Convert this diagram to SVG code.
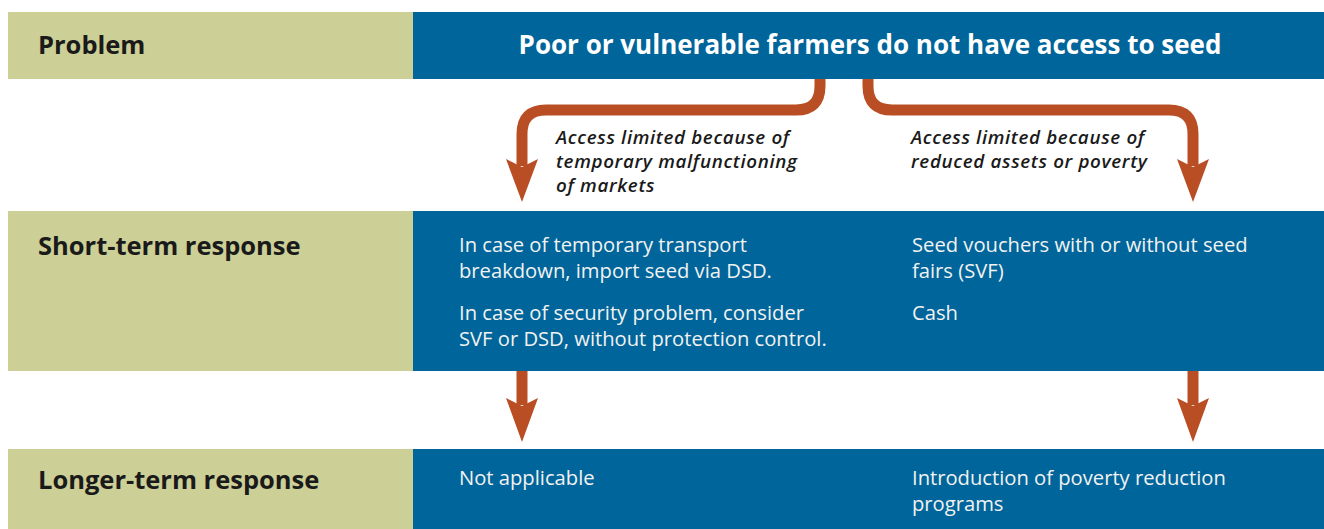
<svg xmlns="http://www.w3.org/2000/svg" width="1324" height="529" viewBox="0 0 1324 529">
<style>
.green{fill:#cccf96}
.blue{fill:#00659a}
.head{font-family:"Open Sans","Liberation Sans",sans-serif;font-weight:700;font-size:25.5px;fill:#1a1a1a}
.title{font-family:"Open Sans","Liberation Sans",sans-serif;font-weight:700;font-size:26px;fill:#ffffff}
.body{font-family:"Open Sans","Liberation Sans",sans-serif;font-size:20.2px;fill:#f2f2f2}
.lab{font-family:"Open Sans","Liberation Sans",sans-serif;font-weight:600;font-style:italic;font-size:18.8px;letter-spacing:0.65px;fill:#1a1a1a}
.shaft{fill:none;stroke:#b94e24;stroke-width:11}
.ah{fill:#b94e24}
</style>
<g id="problem">
<rect class="green" x="8" y="12" width="405" height="67"/>
<rect class="blue" x="413" y="12" width="911" height="67"/>
<text class="head" x="38" y="54">Problem</text>
<text class="title" x="870" y="54" text-anchor="middle">Poor or vulnerable farmers do not have access to seed</text>
</g>
<g id="short-term">
<rect class="green" x="8" y="211" width="405" height="160"/>
<rect class="blue" x="413" y="211" width="911" height="160"/>
<text class="head" x="38" y="255">Short-term response</text>
<text class="body" x="459" y="252">In case of temporary transport</text>
<text class="body" x="459" y="278">breakdown, import seed via DSD.</text>
<text class="body" x="459" y="320">In case of security problem, consider</text>
<text class="body" x="459" y="346">SVF or DSD, without protection control.</text>
<text class="body" x="912" y="252">Seed vouchers with or without seed</text>
<text class="body" x="912" y="278">fairs (SVF)</text>
<text class="body" x="912" y="320">Cash</text>
</g>
<g id="longer-term">
<rect class="green" x="8" y="449" width="405" height="80"/>
<rect class="blue" x="413" y="449" width="911" height="80"/>
<text class="head" x="38" y="489">Longer-term response</text>
<text class="body" x="459" y="485">Not applicable</text>
<text class="body" x="912" y="485">Introduction of poverty reduction</text>
<text class="body" x="912" y="511">programs</text>
</g>
<g id="connectors">
<path class="shaft" d="M820,79 V86 Q820,110 796,110 H546 Q522,110 522,134 V166"/>
<path class="ah" d="M506,159 L522,202 L538,159 L522,167 Z"/>
<path class="shaft" d="M868,79 V86 Q868,110 892,110 H1169 Q1193,110 1193,134 V166"/>
<path class="ah" d="M1177,159 L1193,202 L1209,159 L1193,167 Z"/>
<path class="shaft" d="M522,371 V405"/>
<path class="ah" d="M506,398 L522,442 L538,398 L522,406 Z"/>
<path class="shaft" d="M1193,371 V405"/>
<path class="ah" d="M1177,398 L1193,442 L1209,398 L1193,406 Z"/>
<text class="lab" x="556" y="144">Access limited because of</text>
<text class="lab" x="556" y="168">temporary malfunctioning</text>
<text class="lab" x="556" y="192">of markets</text>
<text class="lab" x="911" y="144">Access limited because of</text>
<text class="lab" x="911" y="168">reduced assets or poverty</text>
</g>
</svg>
